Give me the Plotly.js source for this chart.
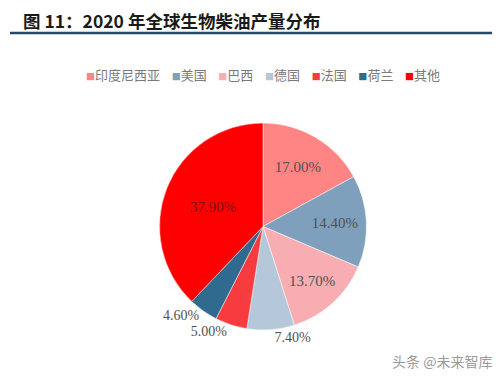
<!DOCTYPE html>
<html>
<head>
<meta charset="utf-8">
<script src="https://cdn.plot.ly/plotly-3.0.1.min.js"></script>
<style>html,body{margin:0;padding:0;background:#fff;}#chart{width:500px;height:378px;}</style>
</head>
<body>
<div id="chart"></div>
<script>
const categories = ["印度尼西亚", "美国", "巴西", "德国", "法国", "荷兰", "其他"];
const shares = [17.00, 14.40, 13.70, 7.40, 5.00, 4.60, 37.90];
const colors = ["#FF8585", "#7FA0BC", "#F7ADB2", "#B5C8DA", "#F73B3F", "#2F6A8F", "#FF0000"];
const textPositions = ["inside", "inside", "inside", "outside", "outside", "outside", "inside"];
const textColors = ["#505050", "#505050", "#505050", "#505050", "#505050", "#505050", "#7a1010"];
const titleText = "图 11：2020 年全球生物柴油产量分布";
const watermark = "头条 @未来智库";

const cx = 263, R = 104, cyTop = 123, cyBot = 330;
const W = 500, H = 378;
const sp = '\u00a0\u00a0\u00a0\u00a0';

const legendText = categories.map((c, i) =>
  '<span style="color:' + colors[i] + ';font-size:9px">■</span>' + c
).join(sp);

const data = [{
  type: 'pie',
  labels: categories,
  values: shares,
  text: shares.map(v => v.toFixed(2) + '%'),
  textinfo: 'text',
  textposition: textPositions,
  insidetextorientation: 'horizontal',
  textfont: {family: 'Liberation Serif, serif', size: 15, color: textColors},
  outsidetextfont: {family: 'Liberation Serif, serif', size: 14, color: '#505050'},
  marker: {colors: colors, line: {color: '#ffffff', width: 0.5}},
  sort: false,
  direction: 'clockwise',
  rotation: 0,
  hole: 0,
  showlegend: false,
  domain: {x: [(cx - R) / W, (cx + R) / W], y: [1 - cyBot / H, 1 - cyTop / H]}
}];

const layout = {
  width: W, height: H,
  margin: {l: 0, r: 0, t: 0, b: 0},
  paper_bgcolor: '#ffffff',
  plot_bgcolor: '#ffffff',
  showlegend: false,
  annotations: [
    {text: '<b>' + titleText + '</b>', xref: 'paper', yref: 'paper', x: 21 / W, y: 1 - 20 / H,
     xanchor: 'left', yanchor: 'middle', showarrow: false,
     font: {family: 'Noto Sans CJK SC, sans-serif', size: 17.5, color: '#1a1a1a'}},
    {text: legendText, xref: 'paper', yref: 'paper', x: cx / W, y: 1 - 75 / H,
     xanchor: 'center', yanchor: 'middle', showarrow: false,
     font: {family: 'Noto Sans CJK SC, sans-serif', size: 13, color: '#7a7a7a'}},
    {text: watermark, xref: 'paper', yref: 'paper', x: 442 / W, y: 1 - 361 / H,
     xanchor: 'center', yanchor: 'middle', showarrow: false,
     font: {family: 'Noto Sans CJK SC, sans-serif', size: 14, color: '#9a9a9a'}}
  ],
  shapes: [
    {type: 'line', xref: 'paper', yref: 'paper', x0: 10 / W, x1: 492 / W, y0: 1 - 33 / H, y1: 1 - 33 / H,
     line: {color: '#24496b', width: 2.5}}
  ]
};

Plotly.newPlot('chart', data, layout, {displayModeBar: false, staticPlot: true});
</script>
</body>
</html>
